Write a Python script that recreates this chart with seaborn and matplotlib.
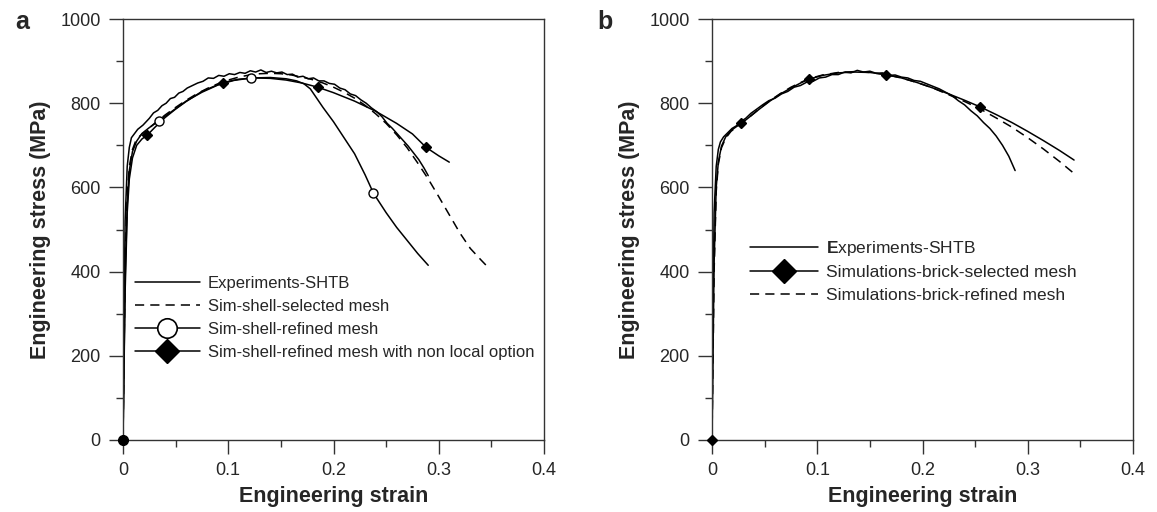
import numpy as np
import pandas as pd
import matplotlib
matplotlib.use("Agg")
import matplotlib.pyplot as plt
from matplotlib.lines import Line2D
from matplotlib.ticker import MultipleLocator
import seaborn as sns

sns.set_style("ticks")
plt.rcParams['font.family'] = ['Liberation Sans', 'DejaVu Sans']
plt.rcParams['mathtext.fontset'] = 'custom'
plt.rcParams['mathtext.rm'] = 'Liberation Sans'
plt.rcParams['mathtext.bf'] = 'Liberation Sans:bold'

# ---- panel a data (strain, stress MPa) ----
a_exp_x = [0, 0.001, 0.002, 0.004, 0.006, 0.008, 0.011, 0.014, 0.017, 0.019, 0.022, 0.025, 0.029, 0.033,
           0.037, 0.041, 0.045, 0.049, 0.053, 0.057, 0.061, 0.066, 0.071, 0.076, 0.081, 0.086, 0.091,
           0.096, 0.101, 0.106, 0.111, 0.116, 0.121, 0.126, 0.131, 0.136, 0.141, 0.146, 0.151, 0.156,
           0.161, 0.166, 0.171, 0.176, 0.181, 0.186, 0.191, 0.196, 0.201, 0.206, 0.211, 0.216, 0.221,
           0.226, 0.231, 0.236, 0.241, 0.246, 0.251, 0.256, 0.261, 0.266, 0.271, 0.276, 0.281, 0.286, 0.290]
a_exp_y = [0, 300, 520, 650, 695, 718, 728, 738, 744, 748, 756, 764, 777, 783,
           794, 800, 811, 814, 824, 828, 836, 842, 848, 852, 860, 859, 866,
           864, 870, 868, 873, 871, 877, 874, 879, 873, 876, 872, 874, 868,
           869, 862, 864, 858, 860, 853, 853, 847, 845, 836, 832, 822, 818,
           808, 800, 789, 780, 768, 752, 740, 726, 712, 698, 682, 666, 646, 628]

a_sel_x = [0, 0.002, 0.004, 0.006, 0.009, 0.012, 0.016, 0.022, 0.03, 0.04, 0.05, 0.06, 0.07, 0.08,
           0.09, 0.1, 0.11, 0.12, 0.13, 0.14, 0.15, 0.16, 0.17, 0.18, 0.19, 0.2, 0.21, 0.22, 0.23,
           0.24, 0.25, 0.26, 0.27, 0.28, 0.29, 0.30, 0.31, 0.32, 0.33, 0.34, 0.345]
a_sel_y = [0, 420, 580, 650, 690, 710, 722, 735, 752, 772, 790, 807, 822, 835,
           846, 855, 862, 867, 870, 871, 870, 867, 862, 856, 848, 838, 826, 812, 795,
           775, 752, 725, 694, 658, 620, 578, 535, 492, 455, 428, 415]

a_ref_x = [0, 0.002, 0.004, 0.006, 0.009, 0.013, 0.018, 0.025, 0.034, 0.045, 0.06, 0.075, 0.09,
           0.105, 0.122, 0.14, 0.155, 0.165, 0.172, 0.178, 0.184, 0.19, 0.2, 0.21, 0.22, 0.23,
           0.238, 0.25, 0.26, 0.27, 0.28, 0.29]
a_ref_y = [0, 380, 560, 640, 685, 710, 728, 742, 758, 778, 805, 826, 843,
           854, 860, 861, 858, 853, 846, 834, 812, 790, 756, 718, 680, 630,
           586, 540, 505, 474, 443, 415]
a_ref_mx = [0, 0.034, 0.122, 0.238]
a_ref_my = [0, 758, 860, 586]

a_nl_x = [0, 0.002, 0.004, 0.006, 0.009, 0.013, 0.018, 0.023, 0.03, 0.04, 0.05, 0.06, 0.075, 0.095,
          0.11, 0.125, 0.14, 0.155, 0.17, 0.185, 0.2, 0.22, 0.24, 0.26, 0.275, 0.288, 0.3, 0.31]
a_nl_y = [0, 350, 540, 620, 670, 700, 715, 724, 742, 766, 786, 804, 828, 849,
          857, 860, 859, 855, 848, 838, 825, 805, 781, 752, 727, 695, 675, 660]
a_nl_mx = [0, 0.023, 0.095, 0.185, 0.288]
a_nl_my = [0, 724, 849, 838, 695]

# ---- panel b data ----
b_exp_x = [0, 0.001, 0.002, 0.004, 0.006, 0.008, 0.011, 0.015, 0.019, 0.023, 0.027, 0.032, 0.037,
           0.042, 0.048, 0.054, 0.06, 0.066, 0.072, 0.078, 0.084, 0.09, 0.096, 0.102, 0.108, 0.114,
           0.12, 0.126, 0.132, 0.138, 0.144, 0.15, 0.156, 0.162, 0.168, 0.174, 0.18, 0.186, 0.192,
           0.198, 0.204, 0.21, 0.216, 0.222, 0.228, 0.234, 0.24, 0.246, 0.252, 0.258, 0.264, 0.27,
           0.276, 0.282, 0.288]
b_exp_y = [0, 320, 540, 650, 690, 708, 720, 730, 740, 746, 756, 764, 776,
           785, 796, 806, 812, 822, 828, 838, 842, 850, 852, 860, 862, 868,
           868, 874, 872, 878, 874, 876, 871, 872, 866, 867, 862, 860, 854,
           852, 846, 840, 834, 826, 818, 806, 796, 782, 770, 754, 740, 722,
           700, 674, 640]

b_sel_x = [0, 0.002, 0.004, 0.006, 0.009, 0.013, 0.018, 0.023, 0.028, 0.035, 0.045, 0.055, 0.065,
           0.075, 0.085, 0.092, 0.105, 0.12, 0.135, 0.15, 0.165, 0.18, 0.195, 0.21, 0.225, 0.24,
           0.255, 0.27, 0.285, 0.3, 0.315, 0.33, 0.344]
b_sel_y = [0, 420, 600, 660, 698, 720, 735, 744, 752, 766, 786, 805, 822,
           836, 849, 857, 866, 872, 874, 873, 868, 860, 849, 836, 822, 807,
           791, 773, 754, 733, 711, 688, 665]
b_sel_mx = [0, 0.028, 0.092, 0.165, 0.255]
b_sel_my = [0, 752, 857, 868, 791]

b_ref_x = [0, 0.002, 0.004, 0.006, 0.009, 0.013, 0.018, 0.023, 0.028, 0.035, 0.045, 0.055, 0.065,
           0.075, 0.085, 0.092, 0.105, 0.12, 0.135, 0.15, 0.165, 0.18, 0.195, 0.21, 0.225, 0.24,
           0.255, 0.27, 0.285, 0.3, 0.315, 0.33, 0.344]
b_ref_y = [0, 400, 590, 655, 694, 717, 733, 743, 752, 766, 787, 806, 823,
           838, 850, 858, 867, 873, 875, 873, 868, 860, 849, 836, 820, 804,
           786, 765, 743, 718, 691, 662, 633]

fig = plt.figure(figsize=(11.57, 5.12), dpi=100)
ax_a = fig.add_axes([123 / 1157, 72 / 512, 421 / 1157, 421 / 512])
ax_b = fig.add_axes([712 / 1157, 72 / 512, 421 / 1157, 421 / 512])

lw = 1.1
dash = (0, (6, 4))


def draw_line(ax, x, y, ls='-'):
    sns.lineplot(x=x, y=y, ax=ax, color='black', linewidth=lw, linestyle=ls,
                 sort=False, estimator=None, legend=False)


# panel a curves
draw_line(ax_a, a_exp_x, a_exp_y)
draw_line(ax_a, a_sel_x, a_sel_y, dash)
draw_line(ax_a, a_ref_x, a_ref_y)
draw_line(ax_a, a_nl_x, a_nl_y)
ax_a.plot(a_nl_mx, a_nl_my, linestyle='none', marker='D', markersize=5.5,
          markerfacecolor='black', markeredgecolor='black', clip_on=False, zorder=5)
ax_a.plot(a_ref_mx[1:], a_ref_my[1:], linestyle='none', marker='o', markersize=6.5,
          markerfacecolor='white', markeredgecolor='black', markeredgewidth=1.0, zorder=6)
ax_a.plot(a_ref_mx[:1], a_ref_my[:1], linestyle='none', marker='o', markersize=7,
          markerfacecolor='black', markeredgecolor='black', clip_on=False, zorder=6)

# panel b curves
draw_line(ax_b, b_exp_x, b_exp_y)
draw_line(ax_b, b_sel_x, b_sel_y)
draw_line(ax_b, b_ref_x, b_ref_y, dash)
ax_b.plot(b_sel_mx, b_sel_my, linestyle='none', marker='D', markersize=5.5,
          markerfacecolor='black', markeredgecolor='black', clip_on=False, zorder=5)

for ax in (ax_a, ax_b):
    ax.set_xlim(0, 0.4)
    ax.set_ylim(0, 1000)
    ax.xaxis.set_major_locator(MultipleLocator(0.1))
    ax.xaxis.set_minor_locator(MultipleLocator(0.05))
    ax.yaxis.set_major_locator(MultipleLocator(200))
    ax.yaxis.set_minor_locator(MultipleLocator(100))
    ax.set_xticks([0, 0.1, 0.2, 0.3, 0.4])
    ax.set_xticklabels(['0', '0.1', '0.2', '0.3', '0.4'])
    ax.tick_params(which='major', direction='out', length=10, width=1, labelsize=13,
                   color='#333333', pad=6)
    ax.tick_params(which='minor', direction='out', length=5, width=1, color='#333333')
    ax.tick_params(top=False, right=False)
    for sp in ax.spines.values():
        sp.set_visible(True)
        sp.set_color('#333333')
        sp.set_linewidth(1.0)
    ax.set_xlabel('Engineering strain', fontsize=15.5, fontweight='bold', labelpad=5)
    ax.set_ylabel('Engineering stress (MPa)', fontsize=15.5, fontweight='bold', labelpad=7)

# legends
h_a = [Line2D([], [], color='black', linewidth=lw),
       Line2D([], [], color='black', linewidth=lw, linestyle=dash),
       Line2D([], [], marker='o', markerfacecolor='white', markeredgecolor='black',
              markeredgewidth=1.2, markersize=14, color='black', linewidth=lw),
       Line2D([], [], marker='D', markerfacecolor='black', markeredgecolor='black',
              markersize=12, color='black', linewidth=lw)]
l_a = ['Experiments-SHTB', 'Sim-shell-selected mesh', 'Sim-shell-refined mesh',
       'Sim-shell-refined mesh with non local option']
ax_a.legend(h_a, l_a, loc='upper left', bbox_to_anchor=(0.028, 0.39), frameon=False,
            fontsize=12, handlelength=3.9, handletextpad=0.5, labelspacing=0.48,
            borderpad=0, borderaxespad=0)

h_b = [Line2D([], [], color='black', linewidth=lw),
       Line2D([], [], marker='D', markerfacecolor='black', markeredgecolor='black',
              markersize=12, color='black', linewidth=lw),
       Line2D([], [], color='black', linewidth=lw, linestyle=dash)]
l_b = [r'$\mathbf{E}$xperiments-SHTB', 'Simulations-brick-selected mesh',
       'Simulations-brick-refined mesh']
ax_b.legend(h_b, l_b, loc='upper left', bbox_to_anchor=(0.09, 0.478), frameon=False,
            fontsize=12.5, handlelength=3.9, handletextpad=0.5, labelspacing=0.42,
            borderpad=0, borderaxespad=0)

fig.text(15 / 1157, 1 - 22 / 512, 'a', fontsize=18, fontweight='bold', va='center', ha='left')
fig.text(597 / 1157, 1 - 22 / 512, 'b', fontsize=18, fontweight='bold', va='center', ha='left')

fig.savefig('out.png', dpi=100)
